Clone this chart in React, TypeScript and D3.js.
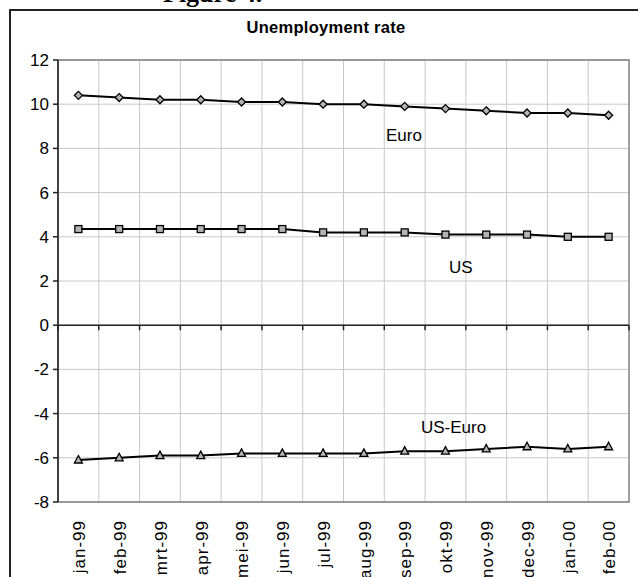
import React from "react";
import * as d3 from "d3";

const categories = ["jan-99","feb-99","mrt-99","apr-99","mei-99","jun-99","jul-99","aug-99","sep-99","okt-99","nov-99","dec-99","jan-00","feb-00"];
const euro = [10.4,10.3,10.2,10.2,10.1,10.1,10.0,10.0,9.9,9.8,9.7,9.6,9.6,9.5];
const us = [4.35,4.35,4.35,4.35,4.35,4.35,4.2,4.2,4.2,4.1,4.1,4.1,4.0,4.0];
const usEuro = [-6.1,-6.0,-5.9,-5.9,-5.8,-5.8,-5.8,-5.8,-5.7,-5.7,-5.6,-5.5,-5.6,-5.5];
const yTicks = [12,10,8,6,4,2,0,-2,-4,-6,-8];

const W = 638, H = 577;
const L = 58, R = 629, T = 60, B = 502;
const FONT = "'Liberation Sans', Arial, sans-serif";

export default function App() {
  const x = d3.scaleBand<string>().domain(categories).range([L, R]).padding(0);
  const bw = x.bandwidth();
  const cx = (c: string) => (x(c) as number) + bw / 2;
  const y = d3.scaleLinear().domain([-8, 12]).range([B, T]);
  const line = d3.line<number>().x((_, i) => cx(categories[i])).y((d) => y(d));
  const bounds = categories.map((c) => x(c) as number).concat([R]);

  const diamond = (px: number, py: number) => `M${px},${py - 4}L${px + 4},${py}L${px},${py + 4}L${px - 4},${py}Z`;
  const tri = (px: number, py: number) => `M${px},${py - 4.5}L${px + 4},${py + 3}L${px - 4},${py + 3}Z`;

  return (
    <svg width={W} height={H} style={{ position: "absolute", left: 0, top: 0, background: "#fff" }}>
      <rect x={0} y={0} width={W} height={H} fill="#fff" />
      <text x={163} y={2} fontFamily="'Liberation Serif', 'Times New Roman', serif" fontWeight="bold" fontSize={26}>Figure 4.</text>
      <rect x={10} y={10} width={640} height={600} fill="none" stroke="#222" strokeWidth={2} />
      <text x={326} y={33} textAnchor="middle" fontFamily={FONT} fontWeight="bold" fontSize={16.5} letterSpacing={0.3}>Unemployment rate</text>
      {/* grid */}
      {yTicks.map((t) => (
        <line key={"h" + t} x1={L} x2={R} y1={y(t)} y2={y(t)} stroke="#c8c8c8" strokeWidth={1} />
      ))}
      {bounds.slice(1, -1).map((b, i) => (
        <line key={"v" + i} x1={b} x2={b} y1={T} y2={B} stroke="#c8c8c8" strokeWidth={1} />
      ))}
      {/* plot border */}
      <rect x={L} y={T} width={R - L} height={B - T} fill="none" stroke="#808080" strokeWidth={1.5} />
      {/* axes */}
      <line x1={L} x2={L} y1={T} y2={B} stroke="#222" strokeWidth={1.5} />
      <line x1={L} x2={R} y1={y(0)} y2={y(0)} stroke="#222" strokeWidth={1.5} />
      {yTicks.map((t) => (
        <g key={"yt" + t}>
          <line x1={L - 5} x2={L} y1={y(t)} y2={y(t)} stroke="#222" strokeWidth={1.5} />
          <text x={49} y={y(t)} dy="0.35em" textAnchor="end" fontFamily={FONT} fontSize={17}>{t}</text>
        </g>
      ))}
      {bounds.map((b, i) => (
        <line key={"xt" + i} x1={b} x2={b} y1={y(0)} y2={y(0) + 5} stroke="#222" strokeWidth={1.5} />
      ))}
      {categories.map((c) => (
        <text key={"xl" + c} transform={`translate(${cx(c)},520) rotate(-90)`} dy="0.4em" textAnchor="end" fontFamily={FONT} fontSize={17} letterSpacing={1}>{c}</text>
      ))}
      {/* series */}
      <path d={line(euro) || ""} fill="none" stroke="#000" strokeWidth={2} />
      <path d={line(us) || ""} fill="none" stroke="#000" strokeWidth={2} />
      <path d={line(usEuro) || ""} fill="none" stroke="#000" strokeWidth={2} />
      {euro.map((v, i) => (
        <path key={"e" + i} d={diamond(cx(categories[i]), y(v))} fill="#b4b4b4" stroke="#000" strokeWidth={1.3} />
      ))}
      {us.map((v, i) => (
        <rect key={"u" + i} x={cx(categories[i]) - 3.5} y={y(v) - 3.5} width={7} height={7} fill="#b4b4b4" stroke="#000" strokeWidth={1.3} />
      ))}
      {usEuro.map((v, i) => (
        <path key={"d" + i} d={tri(cx(categories[i]), y(v))} fill="#b4b4b4" stroke="#000" strokeWidth={1.3} />
      ))}
      <text x={386} y={141} fontFamily={FONT} fontSize={17}>Euro</text>
      <text x={449} y={273} fontFamily={FONT} fontSize={17}>US</text>
      <text x={421} y={433} fontFamily={FONT} fontSize={17}>US-Euro</text>
    </svg>
  );
}
